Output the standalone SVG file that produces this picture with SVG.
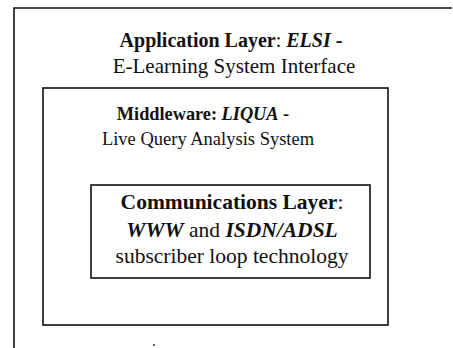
<svg xmlns="http://www.w3.org/2000/svg" width="453" height="348" viewBox="0 0 453 348">
<style>
.box{fill:none;stroke:#111;stroke-width:1.6}
.t{font-family:"Liberation Serif","Times New Roman",serif;fill:#111;text-anchor:middle}
.b{font-weight:bold}
.i{font-style:italic;font-weight:bold}
.n{font-weight:normal}
</style>
<rect width="453" height="348" fill="#fff"/>
<g id="application">
<path class="box" d="M14,348 V8 H452"/>
<text class="t b" x="231" y="47" font-size="20">Application Layer<tspan class="n">:</tspan> <tspan class="i">ELSI</tspan> -</text>
<text class="t" x="234" y="73" font-size="21">E-Learning System Interface</text>
</g>
<g id="middleware">
<rect class="box" x="43" y="88" width="345" height="237"/>
<text class="t b" x="203" y="120" font-size="18.3">Middleware: <tspan class="i">LIQUA</tspan> -</text>
<text class="t" x="208" y="145" font-size="18.5">Live Query Analysis System</text>
</g>
<g id="communications">
<rect class="box" x="91" y="185" width="279" height="93"/>
<text class="t b" x="232" y="209" font-size="21.5">Communications Layer<tspan class="n">:</tspan></text>
<text class="t" x="232" y="237" font-size="21.5"><tspan class="i">WWW</tspan> and <tspan class="i">ISDN/ADSL</tspan></text>
<text class="t" x="232" y="263" font-size="21.5">subscriber loop technology</text>
</g>
<g id="connectors"/>
<circle cx="154" cy="345" r="1" fill="#333"/>
</svg>
